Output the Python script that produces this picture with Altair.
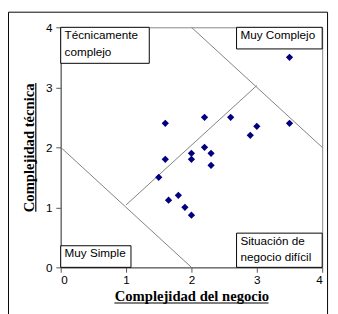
import altair as alt
import pandas as pd

# data points (business complexity, technical complexity)
x_vals = [1.6, 2.2, 2.6, 2.9, 3.0, 3.5, 3.5, 2.0, 2.2, 2.3, 1.6, 2.0, 2.3, 1.5, 1.65, 1.8, 1.9, 2.0]
y_vals = [2.4, 2.5, 2.5, 2.2, 2.35, 2.4, 3.5, 1.9, 2.0, 1.9, 1.8, 1.8, 1.7, 1.5, 1.12, 1.2, 1.0, 0.87]

# divider segments
seg_x1 = [0, 1, 2]
seg_y1 = [2, 1.04, 4]
seg_x2 = [2, 3, 4]
seg_y2 = [0, 3.03, 2]

# quadrant label boxes
box_labels = ["Técnicamente\ncomplejo", "Muy Complejo", "Muy Simple", "Situación de\nnegocio difícil"]
box_x1 = [0, 2.69, 0, 2.69]
box_x2 = [1.355, 4, 1.075, 4]
box_y1 = [3.40, 3.64, 0, 0]
box_y2 = [4, 4, 0.36, 0.57]

ticks = [0, 1, 2, 3, 4]

pts = pd.DataFrame({"x": x_vals, "y": y_vals})
segs = pd.DataFrame({"x": seg_x1, "y": seg_y1, "x2": seg_x2, "y2": seg_y2})
boxes = pd.DataFrame({"x": box_x1, "x2": box_x2, "y": box_y1, "y2": box_y2, "label": box_labels})

xs = alt.Scale(domain=[0, 4], nice=False)
ys = alt.Scale(domain=[0, 4], nice=False)

base_x = alt.X("x:Q", scale=xs, axis=alt.Axis(
    values=ticks, format="d", title="Complejidad del negocio", grid=False,
    titleFont="Liberation Serif", titleFontSize=15, titleFontWeight="bold",
    titleY=34, titleBaseline="alphabetic", titleColor="#000",
    labelPadding=3, tickSize=5))
base_y = alt.Y("y:Q", scale=ys, axis=alt.Axis(
    values=ticks, format="d", title="Complejidad técnica", grid=False,
    titleFont="Liberation Serif", titleFontSize=15, titleFontWeight="bold",
    titleAngle=270, titleX=-28, titleY=123, titleAlign="center",
    titleBaseline="alphabetic", titleColor="#000",
    labelPadding=4, tickSize=5))

dummy = pd.DataFrame({"a": [0]})

frame = alt.Chart(dummy).mark_rect(
    fill=None, stroke="#000", strokeWidth=1
).encode(x=alt.value(-53.5), x2=alt.value(273.5), y=alt.value(-15.5), y2=alt.value(300))

# title underlines
ul_x = alt.Chart(dummy).mark_rule(color="#000", strokeWidth=1.2).encode(
    x=alt.value(55), x2=alt.value(213), y=alt.value(282.5))
ul_y = alt.Chart(dummy).mark_rule(color="#000", strokeWidth=1.2).encode(
    x=alt.value(-25.5), y=alt.value(57), y2=alt.value(189))

lines = alt.Chart(segs).mark_rule(color="#808080", strokeWidth=1).encode(
    x=alt.X("x:Q", scale=xs), y=alt.Y("y:Q", scale=ys), x2="x2:Q", y2="y2:Q")

points = alt.Chart(pts).mark_point(
    shape="diamond", filled=True, color="#000080", size=55, opacity=1
).encode(x=base_x, y=base_y)

rects = alt.Chart(boxes).mark_rect(fill="white", stroke="#000", strokeWidth=1).encode(
    x=alt.X("x:Q", scale=xs), x2="x2:Q", y=alt.Y("y:Q", scale=ys), y2="y2:Q")

texts = alt.Chart(boxes).mark_text(
    align="left", baseline="top", dx=4, dy=3, font="Liberation Sans", fontSize=12,
    lineBreak="\n", lineHeight=17, color="#000"
).encode(x=alt.X("x:Q", scale=xs), y=alt.Y("y2:Q", scale=ys), text="label:N")

chart = alt.layer(frame, ul_x, ul_y, lines, points, rects, texts).properties(
    width=268, height=246,
    autosize=alt.AutoSizeParams(type="none"),
    padding={"left": 54, "top": 16, "right": 8, "bottom": 44},
    background="white",
).configure_view(stroke="#888888", strokeWidth=1).configure_axis(
    labelFont="Liberation Sans", labelFontSize=12, labelColor="#000",
    domainColor="#555", tickColor="#555"
)

chart.save("out.html", embed_options={"renderer": "svg", "actions": False})
